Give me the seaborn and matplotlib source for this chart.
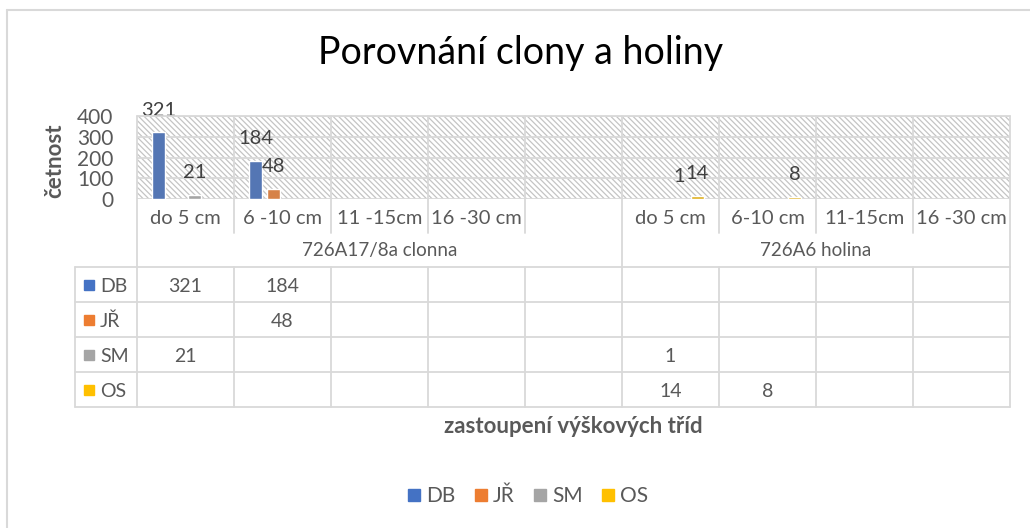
import numpy as np
import pandas as pd
import matplotlib
matplotlib.use("Agg")
import matplotlib.pyplot as plt
import matplotlib.transforms as mtransforms
from matplotlib.lines import Line2D
from matplotlib.patches import Rectangle
import seaborn as sns

# ---------------- data ----------------
series = ["DB", "JŘ", "SM", "OS"]
colors = ["#4472C4", "#ED7D31", "#A5A5A5", "#FFC000"]
categories = ["do 5 cm", "6 -10 cm", "11 -15cm", "16 -30 cm", "",
              "do 5 cm", "6-10 cm", "11-15cm", "16 -30 cm"]
groups = ["726A17/8a clonna", "726A6 holina"]
group_sizes = [5, 4]
nan = np.nan
DB = [321, 184, nan, nan, nan, nan, nan, nan, nan]
JR = [nan, 48, nan, nan, nan, nan, nan, nan, nan]
SM = [21, nan, nan, nan, nan, 1, nan, nan, nan]
OS = [nan, nan, nan, nan, nan, 14, 8, nan, nan]
values = [DB, JR, SM, OS]
yticks = [0, 100, 200, 300, 400]

title = "Porovnání clony a holiny"
ylabel = "četnost"
xlabel = "zastoupení výškových tříd"

# ---------------- style ----------------
sns.set_style("white")
plt.rcParams["font.family"] = ["Lato", "DejaVu Sans"]
plt.rcParams["hatch.linewidth"] = 0.9
TXT = "#595959"
LINE = "#d9d9d9"

W, H = 1030, 528
fig = plt.figure(figsize=(W / 100, H / 100), dpi=100)
fig.patch.set_facecolor("white")

def fx(p):
    return p / W

def fy(p):
    return 1 - p / H

L_PX, R_PX, T_PX, B_PX = 137, 1010, 116, 199
ax = fig.add_axes([fx(L_PX), fy(B_PX), (R_PX - L_PX) / W, (B_PX - T_PX) / H])

keys = [f"{i}" for i in range(len(categories))]
rows = []
for s, vals in zip(series, values):
    for k, v in zip(keys, vals):
        if not np.isnan(v):
            rows.append({"pos": k, "series": s, "value": v})
df = pd.DataFrame(rows)

sns.barplot(data=df, x="pos", y="value", hue="series", order=keys,
            hue_order=series, palette=colors, dodge=True, width=0.742,
            gap=0.3, errorbar=None, ax=ax, legend=False, zorder=2)

for cont in ax.containers:
    ax.bar_label(cont, fmt="%g", padding=10, fontsize=14.5, color="#404040")

ax.set_xlim(-0.5, len(categories) - 0.5)
ax.set_ylim(0, 400)
ax.set_yticks(yticks)
ax.set_xticks([])
ax.set_xlabel("")
ax.set_ylabel("")
for sp in ax.spines.values():
    sp.set_visible(False)
ax.tick_params(axis="y", length=0, pad=17, labelsize=15, labelcolor=TXT)
ax.yaxis.grid(True, color=LINE, lw=1.3)
ax.set_axisbelow(True)
ax.patch.set_alpha(0)
ax.add_patch(Rectangle((0, 0), 1, 1, transform=ax.transAxes, facecolor="white",
                       edgecolor="#c4c4c4", hatch="\\" * 6, lw=0, zorder=0.1))

# ---------------- data table ----------------
bt = mtransforms.blended_transform_factory(ax.transData, fig.transFigure)
cw = (R_PX - L_PX) / len(categories)
x_left = -0.5 + (75 - L_PX) / cw
x_right = len(categories) - 0.5

def vline(xd, p0, p1):
    fig.add_artist(Line2D([xd, xd], [fy(p0), fy(p1)], transform=bt,
                          color=LINE, lw=1.3, zorder=3))

def hline(p, x0, x1):
    fig.add_artist(Line2D([x0, x1], [fy(p), fy(p)], transform=bt,
                          color=LINE, lw=1.3, zorder=3))

row_lines = [267, 302, 337, 372, 407]
bounds = [b - 0.5 for b in range(len(categories) + 1)]
group_edges = np.cumsum([0] + group_sizes) - 0.5
for b in bounds:
    if b in group_edges:
        vline(b, T_PX, 407)
    else:
        vline(b, T_PX, 233)
        vline(b, 267, 407)
vline(x_left, 267, 407)
for p in row_lines:
    hline(p, x_left, x_right)
hline(T_PX, -0.5, x_right)

for i, c in enumerate(categories):
    ax.text(i, fy(224), c, transform=bt, ha="center", va="baseline",
            fontsize=14.5, color=TXT)

for g, (a, b) in zip(groups, zip(group_edges[:-1], group_edges[1:])):
    ax.text((a + b) / 2, fy(256), g, transform=bt, ha="center",
            va="baseline", fontsize=13.5, color=TXT)

for r, (s, col, vals) in enumerate(zip(series, colors, values)):
    base = row_lines[r] + 25
    mid = (row_lines[r] + row_lines[r + 1]) / 2
    fig.add_artist(Line2D([fx(89)], [fy(mid)], transform=fig.transFigure,
                          marker="s", ms=7.5, color=col, lw=0))
    fig.text(fx(100), fy(base), s, ha="left", va="baseline",
             fontsize=14, color=TXT)
    for i, v in enumerate(vals):
        if not np.isnan(v):
            ax.text(i, fy(base), f"{v:g}", transform=bt, ha="center",
                    va="baseline", fontsize=14, color=TXT)

# ---------------- titles ----------------
fig.text(fx(521), fy(64), title, ha="center", va="baseline", fontsize=27,
         color="black")
fig.text(fx(55), fy(161), ylabel, rotation=90, ha="center", va="center",
         fontsize=16, fontweight="bold", color=TXT)
fig.text(fx(573.5), fy(433), xlabel, ha="center", va="baseline",
         fontsize=16, fontweight="bold", color=TXT)

handles = [Line2D([], [], marker="s", ms=9, lw=0, color=c) for c in colors]
fig.legend(handles, series, loc="center", bbox_to_anchor=(fx(527), fy(496)),
           ncol=4, frameon=False, fontsize=15, handletextpad=0.2,
           columnspacing=0.8, handlelength=0.8, labelcolor=TXT)

# chart area border
fig.add_artist(Line2D([fx(7), fx(7)], [fy(10), 0], transform=fig.transFigure,
                      color=LINE, lw=1.5))
fig.add_artist(Line2D([fx(7), 1], [fy(10), fy(10)], transform=fig.transFigure,
                      color=LINE, lw=1.5))

fig.savefig("out.png", dpi=100)
